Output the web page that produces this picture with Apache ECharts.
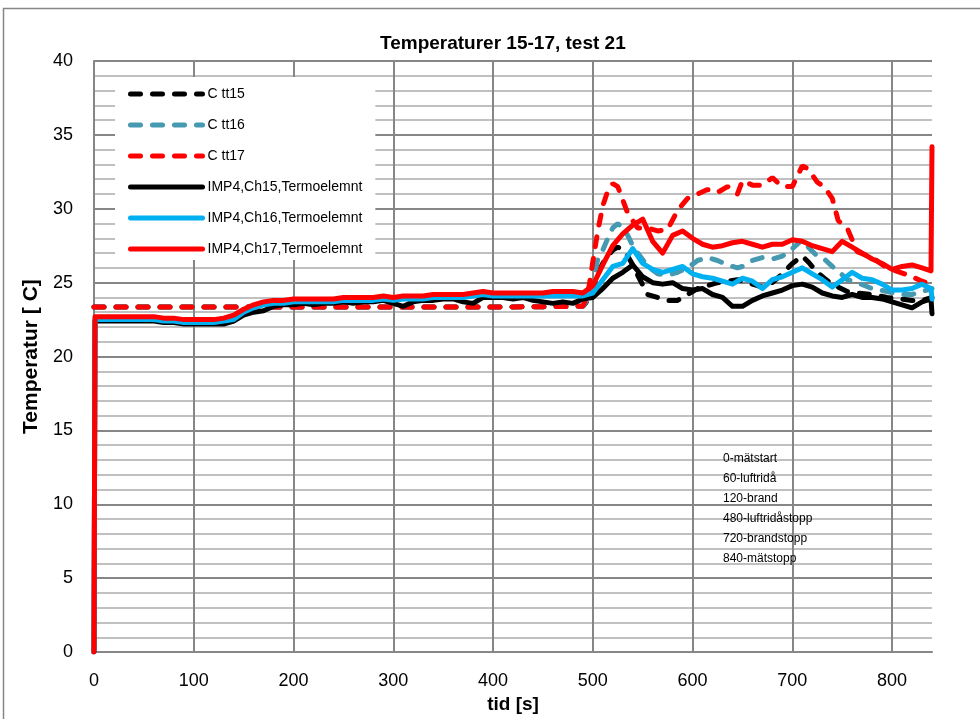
<!DOCTYPE html>
<html>
<head>
<meta charset="utf-8">
<script src="https://cdn.jsdelivr.net/npm/echarts@6/dist/echarts.min.js"></script>
<style>
  html, body { margin: 0; padding: 0; background: #fff; }
  #chart { width: 980px; height: 719px; }
</style>
</head>
<body>
<div id="chart"></div>
<script>
// tid [s] for the IMP4 logger channels
const tid = [0, 1, 10, 20, 30, 40, 50, 60, 70, 80,
  90, 100, 110, 120, 130, 140, 150, 160, 170, 180,
  190, 200, 210, 220, 230, 240, 250, 260, 270, 280,
  290, 300, 310, 320, 330, 340, 350, 360, 370, 380,
  390, 400, 410, 420, 430, 440, 450, 460, 470, 480,
  490, 500, 510, 520, 530, 540, 550, 560, 570, 580,
  590, 600, 610, 620, 630, 640, 650, 660, 670, 680,
  690, 700, 710, 720, 730, 740, 750, 760, 770, 780,
  790, 800, 810, 820, 830, 839, 840]
const ch15 = [0, 22.4, 22.4, 22.4, 22.4, 22.4, 22.4, 22.4, 22.3, 22.3,
  22.2, 22.2, 22.2, 22.2, 22.2, 22.4, 22.8, 23.0, 23.1, 23.4,
  23.5, 23.5, 23.6, 23.5, 23.6, 23.6, 23.7, 23.6, 23.7, 23.7,
  23.8, 23.6, 23.4, 23.7, 23.8, 23.8, 23.9, 23.9, 23.7, 23.6,
  24.0, 24.0, 24.0, 23.9, 24.0, 23.8, 23.7, 23.6, 23.7, 23.6,
  23.9, 24.0, 24.6, 25.3, 25.7, 26.2, 25.4, 25.0, 24.9, 25.0,
  24.6, 24.5, 24.6, 24.2, 24.0, 23.4, 23.4, 23.8, 24.1, 24.3,
  24.5, 24.8, 24.9, 24.7, 24.3, 24.1, 24.0, 24.2, 24.0, 24.0,
  23.9, 23.7, 23.5, 23.3, 23.7, 23.9, 22.9]
const ch16 = [0, 22.5, 22.5, 22.5, 22.5, 22.5, 22.5, 22.5, 22.4, 22.4,
  22.3, 22.3, 22.3, 22.3, 22.4, 22.5, 23.0, 23.3, 23.5, 23.6,
  23.6, 23.7, 23.7, 23.7, 23.7, 23.7, 23.8, 23.8, 23.8, 23.8,
  23.9, 23.8, 23.9, 23.9, 23.9, 24.0, 24.0, 24.0, 24.0, 24.1,
  24.2, 24.1, 24.1, 24.1, 24.1, 24.1, 24.1, 24.1, 24.1, 24.1,
  24.1, 24.3, 25.2, 26.1, 26.3, 27.3, 26.3, 25.9, 25.7, 25.9,
  26.1, 25.6, 25.4, 25.3, 25.1, 24.9, 25.3, 25.1, 24.6, 25.2,
  25.4, 25.7, 26.0, 25.6, 25.2, 24.7, 25.2, 25.7, 25.3, 25.2,
  24.9, 24.5, 24.5, 24.6, 24.9, 24.6, 23.9]
const ch17 = [0, 22.7, 22.7, 22.7, 22.7, 22.7, 22.7, 22.7, 22.6, 22.6,
  22.5, 22.5, 22.5, 22.5, 22.6, 22.8, 23.2, 23.5, 23.7, 23.8,
  23.8, 23.9, 23.9, 23.9, 23.9, 23.9, 24.0, 24.0, 24.0, 24.0,
  24.1, 24.0, 24.1, 24.1, 24.1, 24.2, 24.2, 24.2, 24.2, 24.3,
  24.4, 24.3, 24.3, 24.3, 24.3, 24.3, 24.3, 24.4, 24.4, 24.4,
  24.3, 24.8, 26.2, 27.5, 28.3, 28.9, 29.3, 27.8, 27.0, 28.2,
  28.5, 28.0, 27.6, 27.4, 27.5, 27.7, 27.8, 27.6, 27.4, 27.6,
  27.6, 27.9, 27.8, 27.5, 27.3, 27.1, 27.8, 27.4, 27.0, 26.6,
  26.3, 25.9, 26.1, 26.2, 26.0, 25.8, 34.2]

// tid [s] for the calculated C tt curves
const tidC = [0, 100, 200, 300, 400, 490,
  495, 500, 505, 510, 515, 520, 525, 530, 535, 540, 545,
  555, 565, 575, 585, 595, 605, 615, 625, 635, 645,
  650, 660, 670, 680, 690, 700, 710,
  716, 725, 732, 740, 746, 755, 765,
  780, 795, 808, 820, 830, 840]
const ctt15 = [23.35, 23.35, 23.35, 23.35, 23.35, 23.4,
  23.8, 24.5, 25.6, 26.3, 26.8, 27.2, 27.4, 27.2, 26.8, 26.2, 25.5,
  24.2, 24.0, 23.8, 23.8, 24.2, 24.6, 24.8, 25.0, 25.1, 25.2,
  25.1, 24.9, 24.7, 25.0, 25.6, 26.3, 26.8,
  26.4, 25.7, 25.3, 24.9, 24.7, 24.4, 24.3,
  24.2, 24.0, 23.9, 23.8, 23.8, 24.0]
const ctt16 = [23.35, 23.35, 23.35, 23.35, 23.35, 23.4,
  23.9, 25.0, 26.6, 27.2, 28.0, 28.7, 29.0, 28.7, 28.2, 27.5, 27.0,
  26.1, 25.6, 25.5, 25.7, 26.0, 26.5, 26.7, 26.5, 26.2, 26.0,
  26.1, 26.5, 26.7, 26.6, 26.8, 27.3, 27.9,
  27.4, 26.8, 26.6, 26.1, 25.8, 25.2, 25.0,
  24.6, 24.4, 24.2, 24.2, 24.4, 24.6]
const ctt17 = [23.35, 23.35, 23.35, 23.35, 23.35, 23.4,
  24.2, 26.4, 28.5, 30.2, 31.2, 31.7, 31.5, 30.6, 29.7, 29.2, 28.7,
  28.7, 28.5, 28.6, 29.9, 30.7, 31.0, 31.3, 31.1, 31.5, 31.0,
  31.9, 31.6, 31.6, 32.1, 31.5, 31.5, 32.9,
  32.7, 31.8, 31.5, 30.7, 29.2, 28.7, 27.1,
  26.7, 26.0, 25.7, 25.4, 25.1, 24.9]

const notes = ['0-mätstart', '60-luftridå', '120-brand', '480-luftridåstopp', '720-brandstopp', '840-mätstopp']

const font = '"Liberation Sans", Arial, sans-serif'
const pair = (xs, ys) => xs.map((t, i) => [t, ys[i]])

function dashed(name, color, xs, ys) {
  return {
    name, type: 'line', symbol: 'none', data: pair(xs, ys),
    lineStyle: { color, width: 5, type: [10, 12], cap: 'round' },
    itemStyle: { color }
  }
}
function solid(name, color, xs, ys) {
  return {
    name, type: 'line', symbol: 'none', data: pair(xs, ys),
    lineStyle: { color, width: 5, cap: 'round', join: 'round' },
    itemStyle: { color }
  }
}

const chart = echarts.init(document.getElementById('chart'))
chart.setOption({
  animation: false,
  backgroundColor: '#fff',
  textStyle: { fontFamily: font },
  title: {
    text: 'Temperaturer 15-17, test 21',
    left: 380, top: 34, padding: 0,
    textStyle: { fontSize: 19, fontWeight: 'bold', color: '#000', fontFamily: font }
  },
  legend: {
    orient: 'vertical', left: 115, top: 77,
    padding: [10, 13, 4, 13],
    backgroundColor: '#fff',
    itemWidth: 72, itemHeight: 14, itemGap: 17,
    itemStyle: { opacity: 0 },
    lineStyle: { width: 5, cap: 'round' },
    textStyle: { fontSize: 14, color: '#000', fontFamily: font },
    data: ['C tt15', 'C tt16', 'C tt17', 'IMP4,Ch15,Termoelemnt', 'IMP4,Ch16,Termoelemnt', 'IMP4,Ch17,Termoelemnt']
  },
  grid: { left: 94, right: 48, top: 61, bottom: 61 },
  xAxis: {
    type: 'value', min: 0, max: 840, interval: 100,
    name: 'tid [s]', nameLocation: 'middle', nameGap: 40,
    nameTextStyle: { fontSize: 19, fontWeight: 'bold', color: '#000', fontFamily: font },
    axisLine: { show: true, lineStyle: { color: '#868686', width: 2 } },
    axisTick: { show: false },
    axisLabel: { fontSize: 18, color: '#000', margin: 20, showMaxLabel: false, fontFamily: font },
    splitLine: {
      show: true,
      lineStyle: {
        color: ['#868686', '#868686', '#868686', '#868686', '#868686', '#868686', '#868686', '#868686', '#868686', 'rgba(0,0,0,0)'],
        width: 2
      }
    }
  },
  yAxis: {
    type: 'value', min: 0, max: 40, interval: 5,
    name: 'Temperatur [ C]', nameLocation: 'middle', nameGap: 50,
    nameTextStyle: { fontSize: 21, fontWeight: 'bold', color: '#000', fontFamily: font },
    axisLine: { show: true, lineStyle: { color: '#868686', width: 2 } },
    axisTick: { show: false },
    axisLabel: { fontSize: 18, color: '#000', margin: 21, fontFamily: font },
    splitLine: { show: true, lineStyle: { color: '#868686', width: 2 } },
    minorTick: { show: false, splitNumber: 5 },
    minorSplitLine: { show: true, lineStyle: { color: '#c0c0c0', width: 2 } }
  },
  graphic: [
    {
      type: 'rect', silent: true, z: -10,
      shape: { x: 3.5, y: 8.5, width: 1000, height: 800 },
      style: { fill: 'none', stroke: '#868686', lineWidth: 1.5 }
    },
    {
      type: 'text', left: 723, top: 449, z: 10,
      style: { text: notes.join('\n'), font: '12px ' + font, lineHeight: 20, fill: '#000' }
    }
  ],
  series: [
    dashed('C tt15', '#000000', tidC, ctt15),
    dashed('C tt16', '#4599b1', tidC, ctt16),
    dashed('C tt17', '#ff0000', tidC, ctt17),
    solid('IMP4,Ch15,Termoelemnt', '#000000', tid, ch15),
    solid('IMP4,Ch16,Termoelemnt', '#00b0f0', tid, ch16),
    solid('IMP4,Ch17,Termoelemnt', '#ff0000', tid, ch17)
  ]
})
</script>
</body>
</html>
